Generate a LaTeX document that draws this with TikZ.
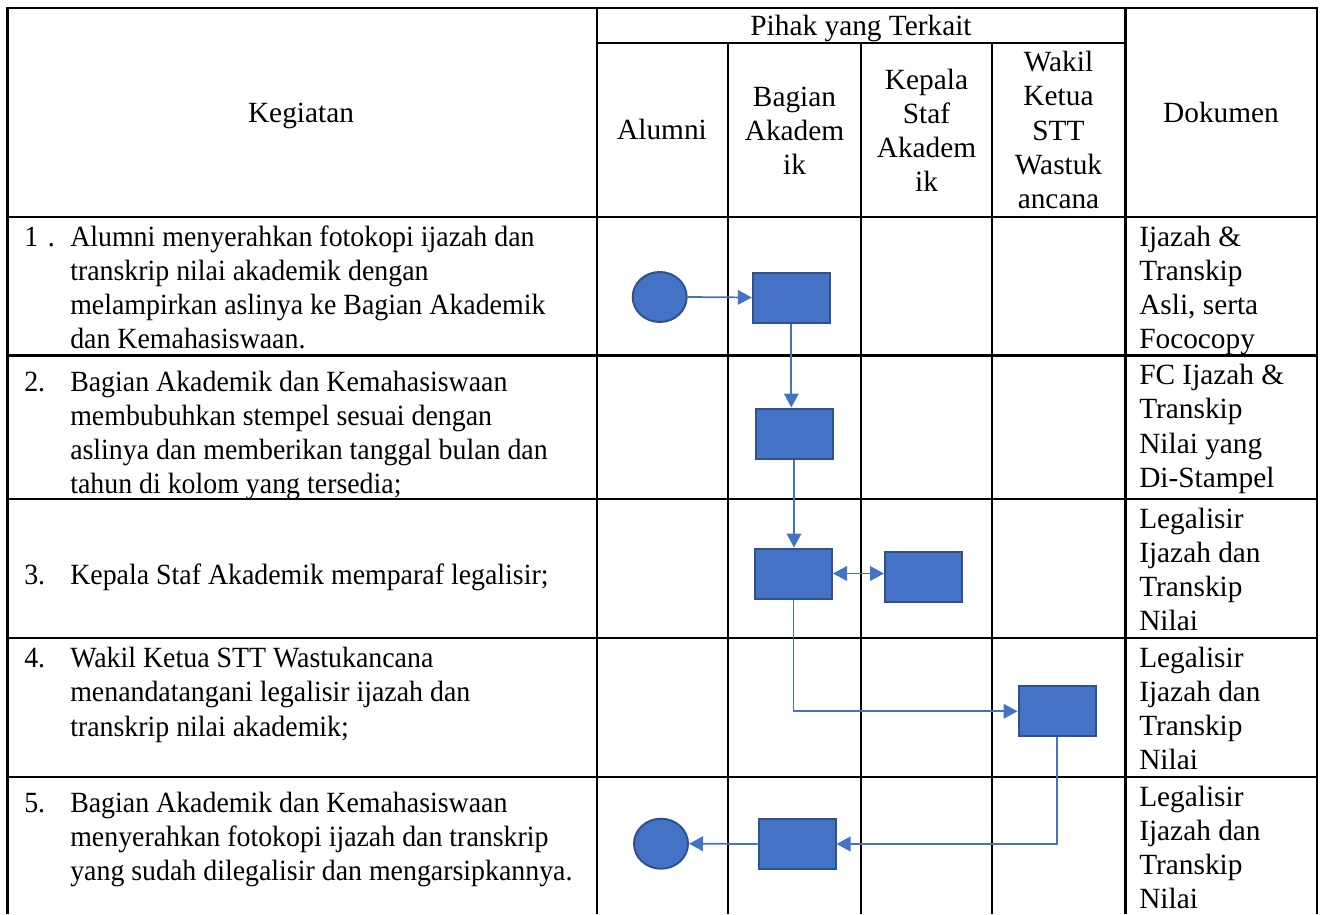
\documentclass[tikz,border=0pt]{standalone}
\usepackage{fontspec}
\setmainfont{Liberation Serif}
\newfontfamily\bodyfont{Liberation Serif}[FakeStretch=0.95]
\usetikzlibrary{arrows.meta,shapes.geometric}
\definecolor{fillblue}{HTML}{4472C4}
\definecolor{edgeblue}{HTML}{2F528F}
\newcommand\LL[1]{\vtop{\baselineskip=25.7pt\lineskiplimit=-50pt\lineskip=0pt\halign{##\hfil\cr#1\crcr}}}
\newcommand\CL[1]{\vtop{\baselineskip=25.7pt\lineskiplimit=-50pt\lineskip=0pt\halign{\hfil##\hfil\cr#1\crcr}}}
\tikzset{
  tbl/.style={line width=1.8pt, black},
  txt/.style={anchor=base west, inner sep=0pt, font=\fontsize{22pt}{25.7pt}\selectfont},
  btxt/.style={anchor=base west, inner sep=0pt, font=\bodyfont\fontsize{22pt}{25.7pt}\selectfont},
  ctxt/.style={anchor=base, inner sep=0pt, font=\fontsize{22pt}{25.7pt}\selectfont},
  proc/.style={draw=edgeblue, fill=fillblue, line width=1.5pt, minimum width=57.75pt, minimum height=37.5pt, inner sep=0pt},
  term/.style={ellipse, draw=edgeblue, fill=fillblue, line width=1.5pt, minimum width=40.5pt, minimum height=37.5pt, inner sep=0pt},
  flow/.style={draw=fillblue, line width=1.3pt, -{Triangle[length=10.5pt,width=11pt]}},
  flow2/.style={draw=fillblue, line width=1.3pt, {Triangle[length=10.5pt,width=11pt]}-{Triangle[length=10.5pt,width=11pt]}}
}
\begin{document}
\begin{tikzpicture}[x=0.75pt, y=-0.75pt]
\useasboundingbox (0,0) rectangle (1321,914);
% table grid
\draw[tbl] (7.5,914) -- (7.5,8) -- (1317,8) -- (1317,914);
\draw[tbl] (597,8) -- (597,914);
\draw[tbl] (1125.5,8) -- (1125.5,914);
\draw[tbl] (728,43) -- (728,914);
\draw[tbl] (861,43) -- (861,914);
\draw[tbl] (992,43) -- (992,914);
\draw[tbl] (597,43) -- (1125.5,43);
\foreach \yy in {217,355.5,499,638,777} \draw[tbl] (7.5,\yy) -- (1317,\yy);
% header
\node[ctxt] (hkeg) at (301,122) {Kegiatan};
\node[ctxt] (hpihak) at (861,35.5) {Pihak yang Terkait};
\node[ctxt] (halum) at (662,139) {Alumni};
\node[ctxt] (hbag) at (794.5,106) {\CL{Bagian\cr Akadem\cr ik}};
\node[ctxt] (hkep) at (926.5,89) {\CL{Kepala\cr Staf\cr Akadem\cr ik}};
\node[ctxt] (hwak) at (1058.5,71.5) {\CL{Wakil\cr Ketua\cr STT\cr Wastuk\cr ancana}};
\node[ctxt] (hdok) at (1221,122) {Dokumen};
% activities
\node[btxt] (n1) at (24,246) {1\,\,.};
\node[btxt] (t1) at (70,246) {\LL{Alumni menyerahkan fotokopi ijazah dan\cr transkrip nilai akademik dengan\cr melampirkan aslinya ke Bagian Akademik\cr dan Kemahasiswaan.}};
\node[btxt] (n2) at (24,391) {2.};
\node[btxt] (t2) at (70,391) {\LL{Bagian Akademik dan Kemahasiswaan\cr membubuhkan stempel sesuai dengan\cr aslinya dan memberikan tanggal bulan dan\cr tahun di kolom yang tersedia;}};
\node[btxt] (n3) at (24,584) {3.};
\node[btxt] (t3) at (70,584) {Kepala Staf Akademik memparaf legalisir;};
\node[btxt] (n4) at (24,667.5) {4.};
\node[btxt] (t4) at (70,667.5) {\LL{Wakil Ketua STT Wastukancana\cr menandatangani legalisir ijazah dan\cr transkrip nilai akademik;}};
\node[btxt] (n5) at (24,812) {5.};
\node[btxt] (t5) at (70,812) {\LL{Bagian Akademik dan Kemahasiswaan\cr menyerahkan fotokopi ijazah dan transkrip\cr yang sudah dilegalisir dan mengarsipkannya.}};
% documents
\node[txt] (d1) at (1139,246) {\LL{Ijazah \&\cr Transkip\cr Asli, serta\cr Fococopy}};
\node[txt] (d2) at (1139,384.5) {\LL{FC Ijazah \&\cr Transkip\cr Nilai yang\cr Di-Stampel}};
\node[txt] (d3) at (1139,528) {\LL{Legalisir\cr Ijazah dan\cr Transkip\cr Nilai}};
\node[txt] (d4) at (1139,667) {\LL{Legalisir\cr Ijazah dan\cr Transkip\cr Nilai}};
\node[txt] (d5) at (1139,806) {\LL{Legalisir\cr Ijazah dan\cr Transkip\cr Nilai}};
% flow shapes
\node[term] (c1) at (659.7,297) {};
\node[proc] (r1) at (791.3,297.5) {};
\node[proc] (r2) at (794,433.5) {};
\node[proc] (r3) at (793.5,573.5) {};
\node[proc] (k3) at (923.5,577) {};
\node[proc] (w4) at (1057,711.3) {};
\node[proc] (r5) at (797,844) {};
\node[term] (c2) at (661,843.7) {};
% connectors
\draw[flow] (c1.east) -- (r1.west);
\draw[flow] (r1.south) -- (r1.south |- r2.north);
\draw[flow] (r2.south) -- (r2.south |- r3.north);
\draw[flow2] (r3.east) -- (r3.east -| k3.west);
\draw[flow] (r3.south) |- (w4.west);
\draw[flow] (w4.south) |- (r5.east);
\draw[flow] (r5.west) -- (c2.east);
\end{tikzpicture}
\end{document}
